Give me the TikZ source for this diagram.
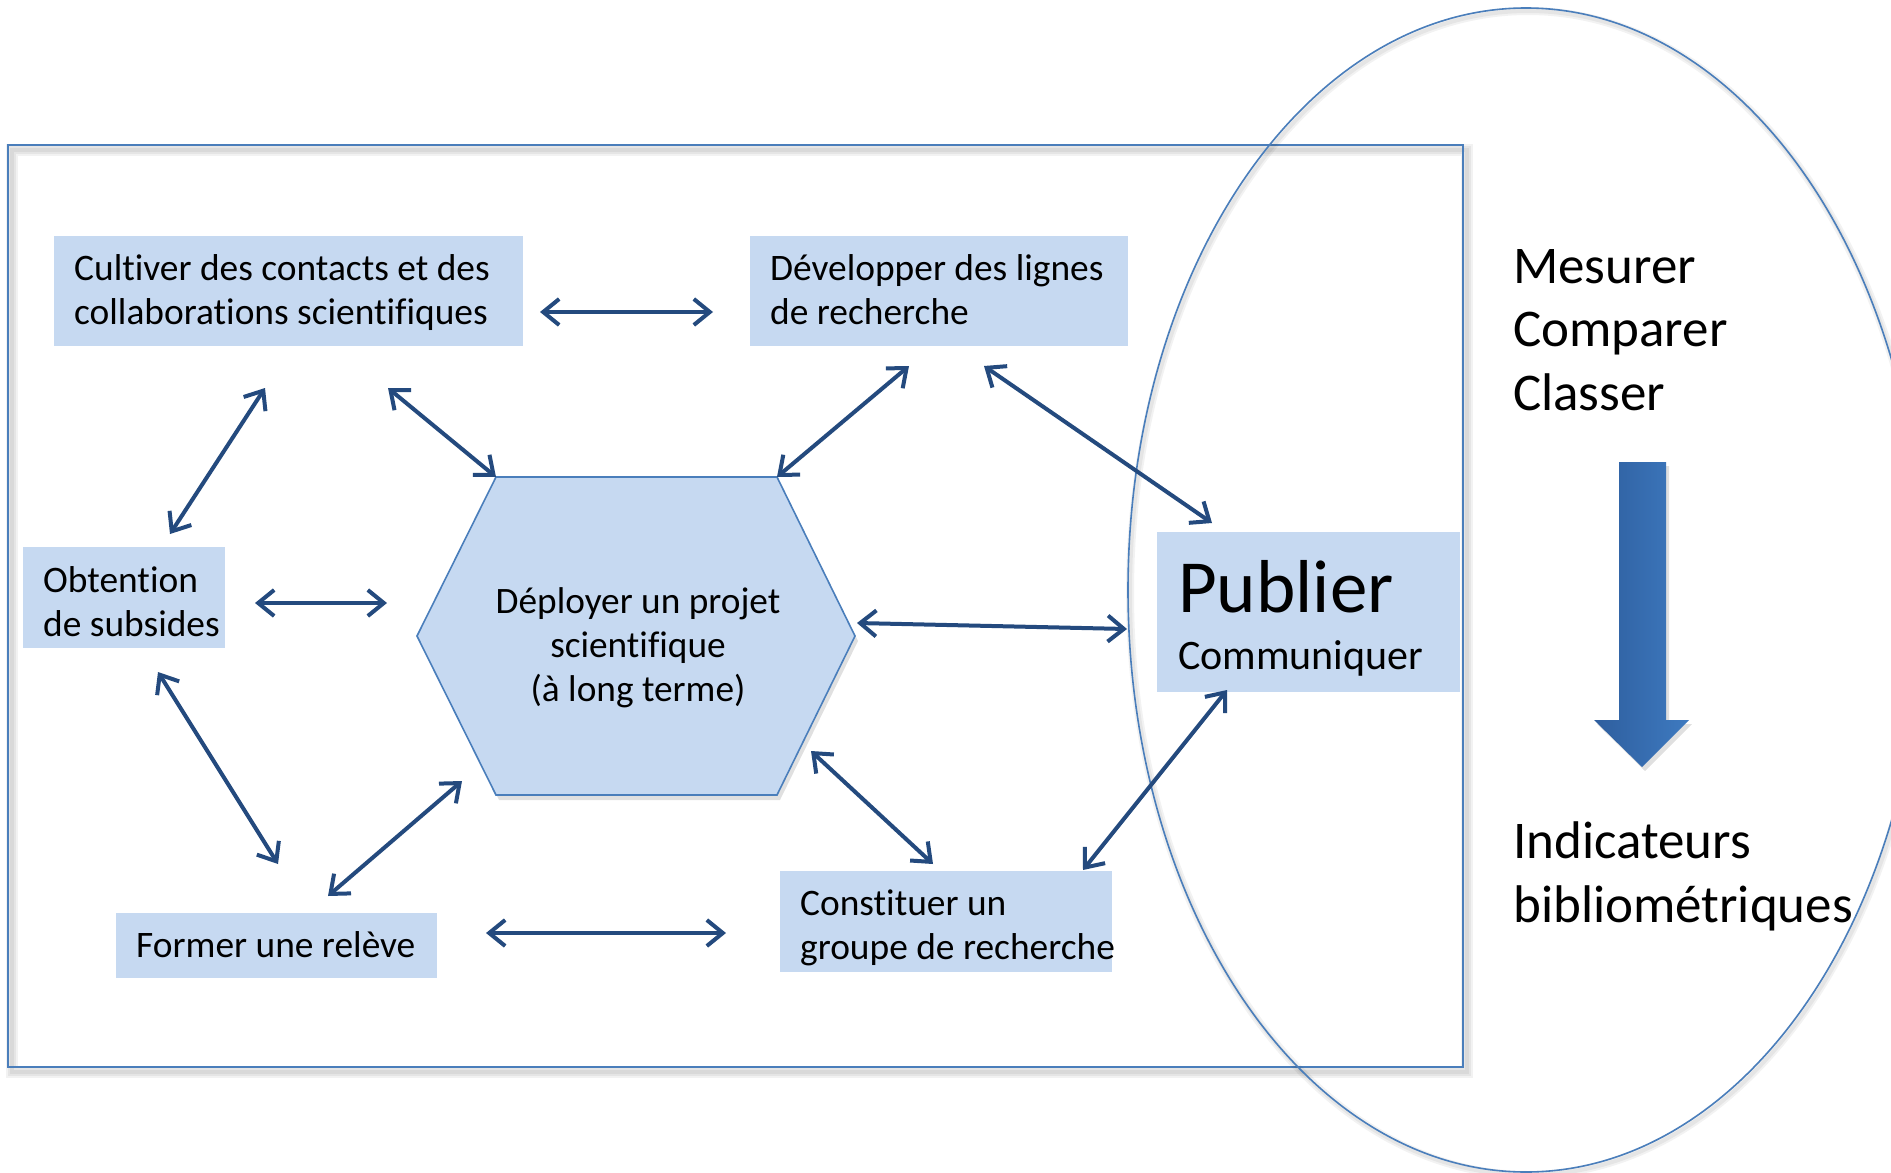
\documentclass[tikz,border=0pt]{standalone}
\usepackage{fontspec}
\setmainfont{Carlito}[Ligatures={NoCommon}]
\usetikzlibrary{arrows.meta}
\definecolor{boxfill}{RGB}{198,217,241}
\definecolor{outl}{RGB}{74,126,187}
\definecolor{arrc}{RGB}{36,74,126}
\definecolor{bigL}{RGB}{46,94,158}
\definecolor{bigR}{RGB}{62,122,192}
\newcommand{\natsp}{\spaceskip=0pt\xspaceskip=0pt\relax}
\begin{document}
\begin{tikzpicture}[x=1pt,y=-1pt,
  box/.style={fill=boxfill, draw=none, inner xsep=20pt, inner ysep=0pt, align=left, anchor=north west, font=\fontsize{37.4}{44.5}\selectfont},
  biarrow/.style={draw=arrc, line width=4pt, {Straight Barb[length=16pt,width=26pt]}-{Straight Barb[length=16pt,width=26pt]}},
  frame/.style={draw=outl, line width=2pt},
  softshadow/.style={draw=black, opacity=0.05},
  bigtext/.style={font=\fontsize{53}{63.5}\selectfont, align=left, inner sep=0pt, anchor=base west}]
\useasboundingbox (0,0) rectangle (1891,1173);
\fill[white] (0,0) rectangle (1891,1173);
\clip (0,0) rectangle (1891,1173);
% outer frame with soft shadow
\foreach \w in {12,8,4} {\draw[softshadow, line width=\w pt] (12,150) rectangle (1467,1072);}
\draw[frame] (8,145) rectangle (1463,1067);
% ellipse
\foreach \w in {8,4} {\draw[softshadow, line width=\w pt] (1528,593) ellipse [x radius=398, y radius=582];}
\draw[draw=outl, line width=1.6pt] (1526,590) ellipse [x radius=398, y radius=582];
% hexagon
\coordinate (h1) at (496,477);
\coordinate (h2) at (777,477);
\coordinate (h3) at (855,636);
\coordinate (h4) at (777,795);
\coordinate (h5) at (496,795);
\coordinate (h6) at (417,636);
\fill[black, opacity=0.12] ([shift={(3,5)}]h1) -- ([shift={(3,5)}]h2) -- ([shift={(3,5)}]h3) -- ([shift={(3,5)}]h4) -- ([shift={(3,5)}]h5) -- ([shift={(3,5)}]h6) -- cycle;
\draw[fill=boxfill, draw=outl, line width=1.6pt] (h1) -- (h2) -- (h3) -- (h4) -- (h5) -- (h6) -- cycle;
\node[align=center, inner sep=0pt, anchor=base, font=\fontsize{37.3}{44}\selectfont] (hex) at (638,701) {Déployer un projet\\scientifique\\(à long terme)};
% boxes (top-left corner, text width = width - 2 x padding; base = first line)
\node[box, text width=429pt, text height=44pt, text depth=66pt] (A) at (54,236) {\natsp\mbox{Cultiver des contacts et des}\\\mbox{collaborations scientifiques}};
\node[box, text width=338pt, text height=44pt, text depth=66pt] (B) at (750,236) {\natsp\mbox{Développer des lignes}\\\mbox{de recherche}};
\node[box, text width=162pt, text height=45pt, text depth=56pt] (C) at (23,547) {\natsp Obtention\\\mbox{de subsides}};
\node[box, text width=281pt, text height=44pt, text depth=21pt] (F) at (116,913) {\natsp\mbox{Former une relève}};
\node[box, text width=292pt, text height=44pt, text depth=57pt] (G) at (780,871) {\natsp\mbox{Constituer un}\\\mbox{groupe de recherche}};
\node[box, inner xsep=21pt, text width=261pt, text height=80pt, text depth=80pt, font=\fontsize{42}{57}\selectfont] (P) at (1157,532) {\natsp{\fontsize{75}{57}\selectfont Publier}\\\mbox{Communiquer}};
% arrow end points
\coordinate (ab1) at (540,312);  \coordinate (ab2) at (713,312);
\coordinate (ac1) at (265,388);  \coordinate (ac2) at (170,534);
\coordinate (ah1) at (388,388);  \coordinate (ah2) at (496,477);
\coordinate (bh1) at (909,366);  \coordinate (bh2) at (777,477);
\coordinate (bp1) at (984,366);  \coordinate (bp2) at (1212,523);
\coordinate (ch1) at (255,603);  \coordinate (ch2) at (387,603);
\coordinate (cf1) at (158,672);  \coordinate (cf2) at (278,864);
\coordinate (fh1) at (328,896);  \coordinate (fh2) at (462,781);
\coordinate (hp1) at (857,623);  \coordinate (hp2) at (1127,629);
\coordinate (fg1) at (486,933);  \coordinate (fg2) at (726,933);
\coordinate (hg1) at (811,751);  \coordinate (hg2) at (933,864);
\coordinate (gp1) at (1083,870); \coordinate (gp2) at (1227,690);
\foreach \s/\e in {ab1/ab2, ac1/ac2, ah1/ah2, bh1/bh2, bp1/bp2, ch1/ch2, cf1/cf2, fh1/fh2, hp1/hp2, fg1/fg2, hg1/hg2, gp1/gp2}
  {\draw[biarrow] (\s) -- (\e);}
% big arrow
\fill[black, opacity=0.12] (1622,466) -- (1669,466) -- (1669,724) -- (1692,724) -- (1645,771) -- (1597,724) -- (1622,724) -- cycle;
\shade[left color=bigL, right color=bigR] (1619,462) -- (1666,462) -- (1666,720) -- (1689,720) -- (1642,767) -- (1594,720) -- (1619,720) -- cycle;
% right texts (anchored at the baseline of the last line)
\node[bigtext] (mcc) at (1513,410) {Mesurer\\Comparer\\Classer};
\node[bigtext] (ind) at (1513,922) {Indicateurs\\bibliométriques};
\end{tikzpicture}
\end{document}
